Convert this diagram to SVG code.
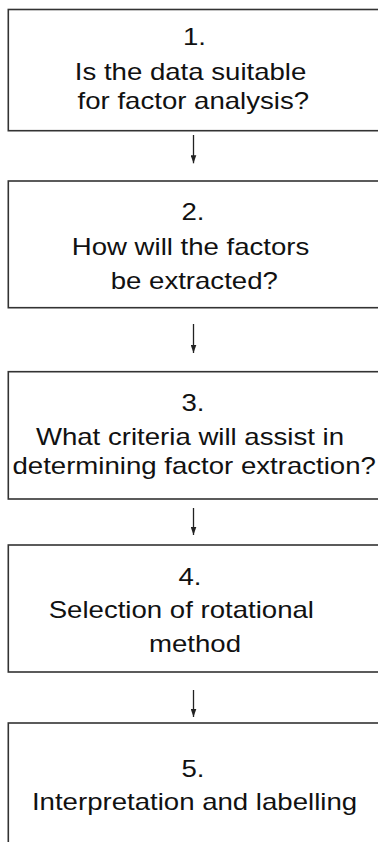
<svg xmlns="http://www.w3.org/2000/svg" width="378" height="842" viewBox="0 0 378 842">
<style>
.box{fill:#ffffff;stroke:#333333;stroke-width:1.6}
.t{font-family:"Liberation Sans",Arial,sans-serif;font-size:23px;fill:#111111;text-anchor:middle}
.c{stroke:#222222;stroke-width:1.3;fill:none}
</style>
<defs>
<marker id="ah" markerUnits="userSpaceOnUse" markerWidth="8" markerHeight="6" refX="8" refY="3" orient="auto">
<path d="M0,0.2 L8,3 L0,5.8 z" fill="#222222"/>
</marker>
</defs>
<rect width="378" height="842" fill="#ffffff"/>
<g id="node1">
<rect class="box" x="8.3" y="9.5" width="372" height="121.2"/>
<text class="t" transform="scale(1.2 1)" x="162" y="45">1.</text>
<text class="t" transform="scale(1.2 1)" x="158.8" y="80">Is the data suitable</text>
<text class="t" transform="scale(1.2 1)" x="161.1" y="109">for factor analysis?</text>
</g>
<g id="node2">
<rect class="box" x="8.3" y="181" width="372" height="126.7"/>
<text class="t" transform="scale(1.2 1)" x="160.8" y="220">2.</text>
<text class="t" transform="scale(1.2 1)" x="158.8" y="255">How will the factors</text>
<text class="t" transform="scale(1.2 1)" x="161.9" y="289.3">be extracted?</text>
</g>
<g id="node3">
<rect class="box" x="8.3" y="371.7" width="372" height="127.3"/>
<text class="t" transform="scale(1.2 1)" x="160.8" y="410.7">3.</text>
<text class="t" transform="scale(1.2 1)" x="158.3" y="445">What criteria will assist in</text>
<text class="t" transform="scale(1.2 1)" x="161.8" y="474">determining factor extraction?</text>
</g>
<g id="node4">
<rect class="box" x="8.3" y="545" width="372" height="127"/>
<text class="t" transform="scale(1.2 1)" x="158.3" y="585">4.</text>
<text class="t" transform="scale(1.2 1)" x="151.1" y="618.3">Selection of rotational</text>
<text class="t" transform="scale(1.2 1)" x="162.5" y="651.7">method</text>
</g>
<g id="node5">
<rect class="box" x="8.3" y="723" width="372" height="130"/>
<text class="t" transform="scale(1.2 1)" x="160.8" y="776.7">5.</text>
<text class="t" transform="scale(1.2 1)" x="162.1" y="810">Interpretation and labelling</text>
</g>
<g id="connectors">
<line class="c" x1="193.5" y1="135" x2="193.5" y2="163.3" marker-end="url(#ah)"/>
<line class="c" x1="193.5" y1="324" x2="193.5" y2="353" marker-end="url(#ah)"/>
<line class="c" x1="193.5" y1="508" x2="193.5" y2="535" marker-end="url(#ah)"/>
<line class="c" x1="193.5" y1="690" x2="193.5" y2="717" marker-end="url(#ah)"/>
</g>
</svg>
